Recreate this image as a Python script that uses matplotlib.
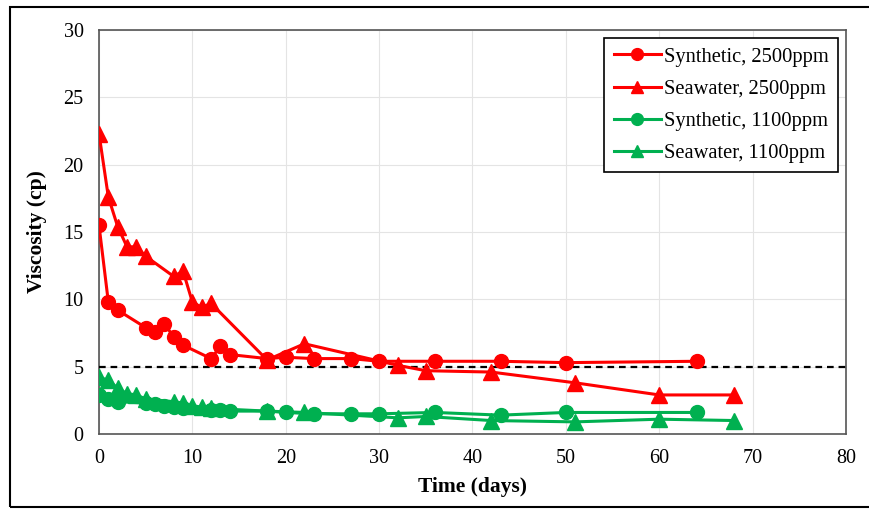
import matplotlib
matplotlib.use("Agg")
import matplotlib.pyplot as plt
from matplotlib.patches import Rectangle

# ---- data ----
syn_days = [0, 1, 2, 5, 6, 7, 8, 9, 12, 13, 14, 18, 20, 23, 27, 30, 36, 43, 50, 64]
syn_2500 = [15.5, 9.8, 9.2, 7.9, 7.6, 8.2, 7.2, 6.6, 5.6, 6.5, 5.9, 5.6, 5.7, 5.6, 5.6, 5.4, 5.4, 5.4, 5.3, 5.4]
syn_1100 = [2.9, 2.6, 2.4, 2.3, 2.2, 2.1, 2.0, 1.9, 1.8, 1.8, 1.7, 1.7, 1.6, 1.5, 1.5, 1.5, 1.6, 1.4, 1.6, 1.6]

sea_days = [0, 1, 2, 3, 4, 5, 8, 9, 10, 11, 12, 18, 22, 32, 35, 42, 51, 60, 68]
sea_2500 = [22.3, 17.6, 15.4, 13.9, 13.9, 13.2, 11.7, 12.1, 9.8, 9.4, 9.7, 5.5, 6.7, 5.1, 4.7, 4.6, 3.8, 2.9, 2.9]
sea_1100 = [4.2, 4.0, 3.4, 3.0, 2.9, 2.6, 2.4, 2.3, 2.1, 2.0, 1.9, 1.7, 1.6, 1.2, 1.3, 1.0, 0.9, 1.1, 1.0]

threshold = 5
labels = ["Synthetic, 2500ppm", "Seawater, 2500ppm", "Synthetic, 1100ppm", "Seawater, 1100ppm"]
x_ticks = [0, 10, 20, 30, 40, 50, 60, 70, 80]
y_ticks = [0, 5, 10, 15, 20, 25, 30]

RED = "#FF0000"
GREEN = "#00B050"

plt.rcParams['font.family'] = ['Liberation Serif', 'DejaVu Serif']

fig = plt.figure(figsize=(8.69, 5.09), dpi=100)
ax = fig.add_axes([99/869, 1-434/509, (846-99)/869, (434-30)/509])

ax.plot(syn_days, syn_2500, '-o', color=RED, lw=2.2, ms=10, label=labels[0], zorder=4)
ax.plot(sea_days, sea_2500, '-^', color=RED, lw=2.2, ms=11, label=labels[1], zorder=4)
ax.plot(syn_days, syn_1100, '-o', color=GREEN, lw=2.2, ms=10, label=labels[2], zorder=4)
ax.plot(sea_days, sea_1100, '-^', color=GREEN, lw=2.2, ms=11, label=labels[3], zorder=4)

ax.plot([0, 80], [threshold, threshold], color='black', lw=1.6, ls=(0, (3, 2.2)), zorder=3)

ax.set_xlim(0, 80)
ax.set_ylim(0, 30)
ax.set_xticks(x_ticks)
ax.set_yticks(y_ticks)
ax.tick_params(length=0, labelsize=14.5, pad=11)
ax.grid(True, color='#E4E4E4', lw=0.8, zorder=0)
ax.set_axisbelow(True)
for s in ax.spines.values():
    s.set_color('#555555')
    s.set_linewidth(1.2)

ax.set_xlabel("Time (days)", fontsize=15.5, fontweight='bold', labelpad=6)
ax.set_ylabel("Viscosity (cp)", fontsize=15.5, fontweight='bold', labelpad=12)

leg = ax.legend(loc='upper right', bbox_to_anchor=(838/869, 1-38/509), bbox_transform=fig.transFigure,
                fontsize=14.8, frameon=True, fancybox=False, framealpha=1,
                edgecolor='black', handlelength=2.3, handletextpad=0.15,
                borderpad=0.45, labelspacing=0.62, borderaxespad=0)
leg.get_frame().set_linewidth(1.2)
for h in leg.legend_handles:
    h.set_markersize(8.5)

fig.patches.append(Rectangle((9.5/869, 2/509), 1.05, 1-9/509, transform=fig.transFigure,
                             fill=False, edgecolor='black', lw=1.5))

fig.savefig("out.png", dpi=100)
